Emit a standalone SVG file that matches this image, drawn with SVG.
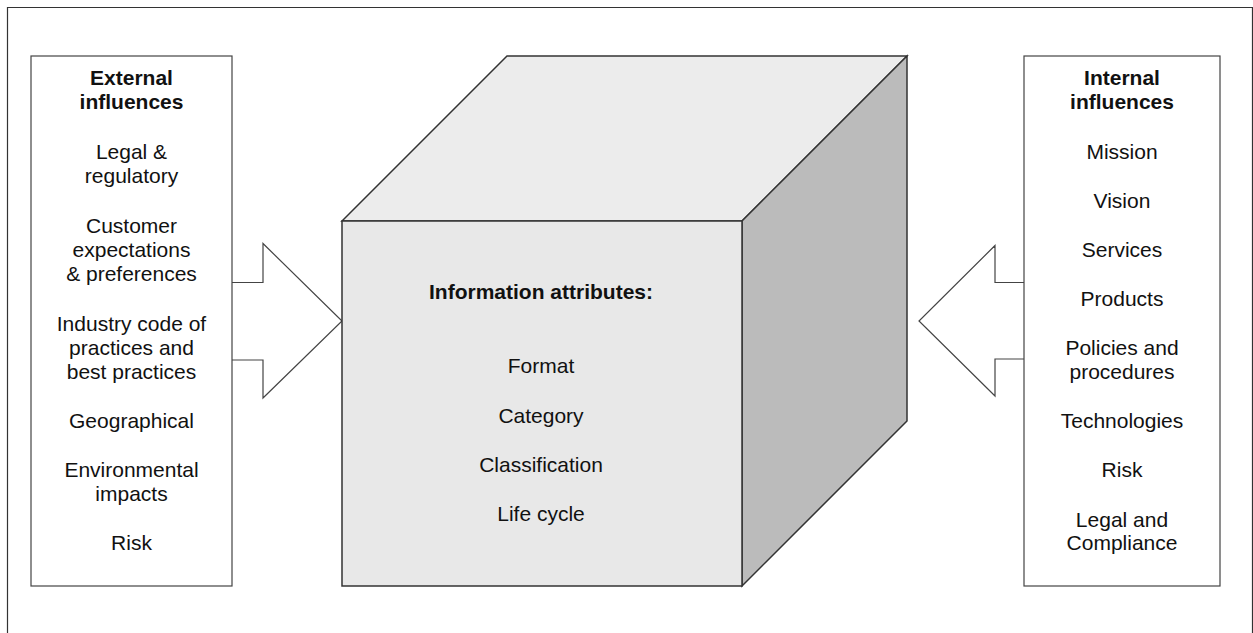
<svg xmlns="http://www.w3.org/2000/svg" width="1253" height="633" viewBox="0 0 1253 633">
<style>
.t{font-family:"Liberation Sans",Arial,sans-serif;font-size:21px;fill:#111;text-anchor:middle}
.b{font-weight:bold}
.box{fill:#fff;stroke:#444;stroke-width:1.2}
.cube{stroke:#333;stroke-width:1.5;stroke-linejoin:miter}
</style>
<rect width="1253" height="633" fill="#fff"/>
<path d="M7.5 640 V7.5 H1252.5 V640" fill="none" stroke="#333" stroke-width="1.2"/>
<g id="connectors">
<path class="box" d="M232 282.5 H263 V243.5 L342 321 L263 398 V360 H232"/>
<path class="box" d="M1024 282.5 H995 V245.5 L919 321 L995 396 V359 H1024"/>
</g>
<g id="external">
<rect class="box" x="31" y="56" width="201" height="530"/>
<text class="t b" x="131.5" y="85">External</text>
<text class="t b" x="131.5" y="108.7">influences</text>
<text class="t" x="131.5" y="159.3">Legal &amp;</text>
<text class="t" x="131.5" y="183">regulatory</text>
<text class="t" x="131.5" y="233.3">Customer</text>
<text class="t" x="131.5" y="257">expectations</text>
<text class="t" x="131.5" y="281">&amp; preferences</text>
<text class="t" x="131.5" y="331">Industry code of</text>
<text class="t" x="131.5" y="355">practices and</text>
<text class="t" x="131.5" y="379">best practices</text>
<text class="t" x="131.5" y="428.3">Geographical</text>
<text class="t" x="131.5" y="477.3">Environmental</text>
<text class="t" x="131.5" y="501">impacts</text>
<text class="t" x="131.5" y="550">Risk</text>
</g>
<g id="cube">
<path class="cube" fill="#ececec" d="M342 221 L507 56 H907 L742 221 Z"/>
<path class="cube" fill="#bbbbbb" d="M742 221 L907 56 V421 L742 586 Z"/>
<path class="cube" fill="#e8e8e8" d="M342 221 H742 V586 H342 Z"/>
<text class="t b" x="541" y="299.3">Information attributes:</text>
<text class="t" x="541" y="373.3">Format</text>
<text class="t" x="541" y="422.7">Category</text>
<text class="t" x="541" y="471.7">Classification</text>
<text class="t" x="541" y="520.7">Life cycle</text>
</g>
<g id="internal">
<rect class="box" x="1024" y="56" width="196" height="530"/>
<text class="t b" x="1122" y="85">Internal</text>
<text class="t b" x="1122" y="108.7">influences</text>
<text class="t" x="1122" y="159.3">Mission</text>
<text class="t" x="1122" y="208.3">Vision</text>
<text class="t" x="1122" y="257.3">Services</text>
<text class="t" x="1122" y="306">Products</text>
<text class="t" x="1122" y="355">Policies and</text>
<text class="t" x="1122" y="379">procedures</text>
<text class="t" x="1122" y="428.3">Technologies</text>
<text class="t" x="1122" y="477.3">Risk</text>
<text class="t" x="1122" y="526.7">Legal and</text>
<text class="t" x="1122" y="550">Compliance</text>
</g>
</svg>
